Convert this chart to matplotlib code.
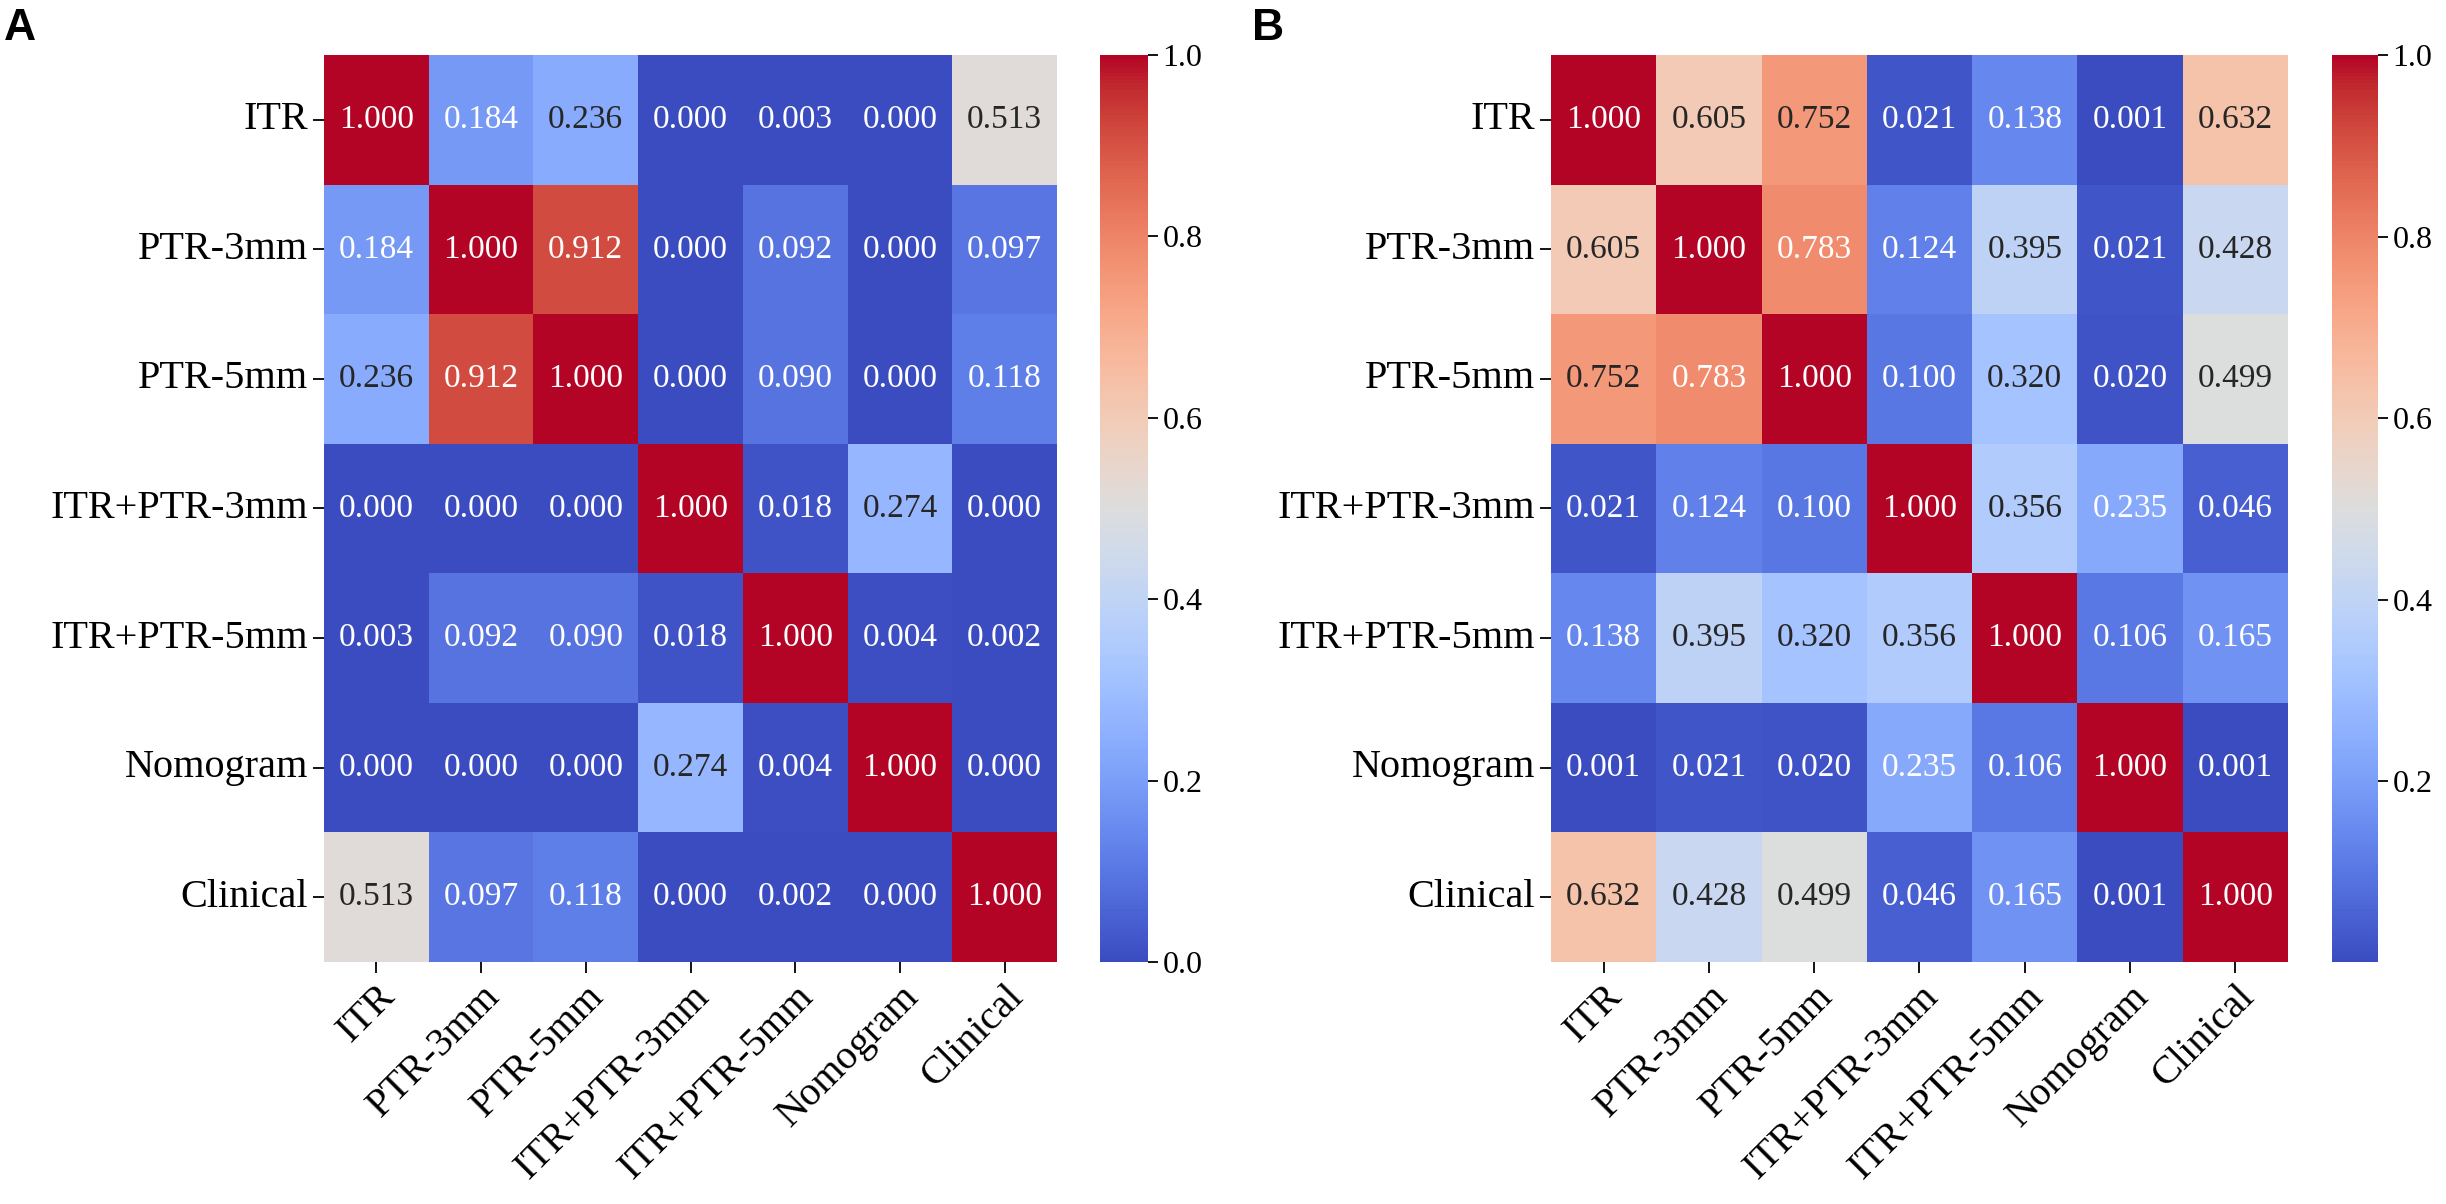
import matplotlib
matplotlib.use("Agg")
import matplotlib.pyplot as plt
import numpy as np
import seaborn as sns

plt.rcParams["font.family"] = ["Liberation Serif", "DejaVu Serif"]

labels = ["ITR", "PTR-3mm", "PTR-5mm", "ITR+PTR-3mm", "ITR+PTR-5mm", "Nomogram", "Clinical"]

# panel A p-values
pvals_a = [
    [1.000, 0.184, 0.236, 0.000, 0.003, 0.000, 0.513],
    [0.184, 1.000, 0.912, 0.000, 0.092, 0.000, 0.097],
    [0.236, 0.912, 1.000, 0.000, 0.090, 0.000, 0.118],
    [0.000, 0.000, 0.000, 1.000, 0.018, 0.274, 0.000],
    [0.003, 0.092, 0.090, 0.018, 1.000, 0.004, 0.002],
    [0.000, 0.000, 0.000, 0.274, 0.004, 1.000, 0.000],
    [0.513, 0.097, 0.118, 0.000, 0.002, 0.000, 1.000],
]

# panel B p-values
pvals_b = [
    [1.000, 0.605, 0.752, 0.021, 0.138, 0.001, 0.632],
    [0.605, 1.000, 0.783, 0.124, 0.395, 0.021, 0.428],
    [0.752, 0.783, 1.000, 0.100, 0.320, 0.020, 0.499],
    [0.021, 0.124, 0.100, 1.000, 0.356, 0.235, 0.046],
    [0.138, 0.395, 0.320, 0.356, 1.000, 0.106, 0.165],
    [0.001, 0.021, 0.020, 0.235, 0.106, 1.000, 0.001],
    [0.632, 0.428, 0.499, 0.046, 0.165, 0.001, 1.000],
]

W, H = 2446, 1204
fig = plt.figure(figsize=(W / 100, H / 100), dpi=100)


def px_axes(x0, y0, x1, y1):
    # box given in pixels from the top-left corner
    return fig.add_axes([x0 / W, 1 - y1 / H, (x1 - x0) / W, (y1 - y0) / H])


panels = [
    (np.array(pvals_a), (324, 55, 1057, 962), (1100, 55, 1148, 962), "A", 4),
    (np.array(pvals_b), (1551, 55, 2288, 962), (2332, 55, 2378, 962), "B", 1252),
]

for data, hm_box, cb_box, tag, tag_x in panels:
    ax = px_axes(*hm_box)
    cax = px_axes(*cb_box)
    sns.heatmap(data, ax=ax, cbar_ax=cax, cmap="coolwarm", annot=True, fmt=".3f",
                annot_kws={"size": 24}, xticklabels=labels, yticklabels=labels)
    ax.set_xticklabels(labels, rotation=45, ha="right", rotation_mode="anchor", fontsize=29)
    ax.set_yticklabels(labels, rotation=0, fontsize=29)
    ax.tick_params(length=8, width=1.3)
    cax.tick_params(labelsize=23, length=7, width=1.3)
    fig.text(tag_x / W, 1 - 8 / H, tag, fontsize=32, fontweight="bold",
             family="Liberation Sans", va="top", ha="left")

fig.savefig("out.png", dpi=100)
